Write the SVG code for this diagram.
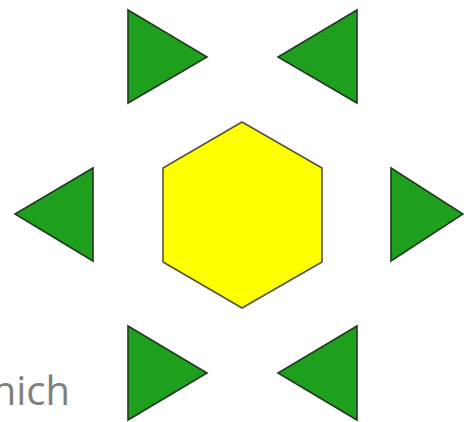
<svg xmlns="http://www.w3.org/2000/svg" width="464" height="422" viewBox="0 0 464 422">
<style>
.tri{fill:#1ea01e;stroke:#1f3a1f;stroke-width:1.6;stroke-linejoin:miter}
.hex{fill:#ffff00;stroke:#55533a;stroke-width:1.6}
.lbl{font-family:"Open Sans","DejaVu Sans",sans-serif;font-size:40px;fill:#7f7f7f}
</style>
<rect width="464" height="422" fill="#ffffff"/>
<g id="hexagon"><polygon class="hex" points="242,122 322,168 322,262 242,308 163,262 163,168"/></g>
<g id="tri-top-left"><polygon class="tri" points="128,10 207,57 128,103"/></g>
<g id="tri-top-right"><polygon class="tri" points="357,10 278,57 357,103"/></g>
<g id="tri-left"><polygon class="tri" points="93,168 15,214 93,261"/></g>
<g id="tri-right"><polygon class="tri" points="391,168 463,214 391,261"/></g>
<g id="tri-bottom-left"><polygon class="tri" points="128,326 207,373 128,420"/></g>
<g id="tri-bottom-right"><polygon class="tri" points="357,326 278,373 357,420"/></g>
<g id="connectors"></g>
<text class="lbl" x="70" y="405" text-anchor="end">which</text>
</svg>
